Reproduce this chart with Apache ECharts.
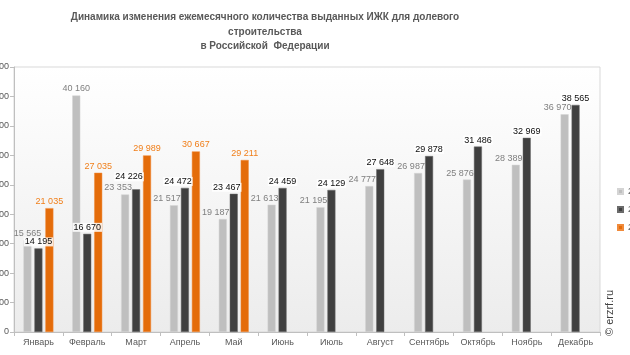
<!DOCTYPE html>
<html><head><meta charset="utf-8">
<script src="https://cdn.jsdelivr.net/npm/echarts@6/dist/echarts.min.js"></script>
<style>html,body{margin:0;padding:0;background:#fff}#c{width:630px;height:355px}</style>
</head><body><div id="c"></div>
<script>
const titleText = 'Динамика изменения ежемесячного количества выданных ИЖК для долевого\nстроительства\nв Российской  Федерации';
const months = ['Январь','Февраль','Март','Апрель','Май','Июнь','Июль','Август','Сентябрь','Октябрь','Ноябрь','Декабрь'];
const seriesNames = ['2021','2022','2023'];
const valuesA = [15565,40160,23353,21517,19187,21613,21195,24777,26987,25876,28389,36970];
const valuesB = [14195,16670,24226,24472,23467,24459,24129,27648,29878,31486,32969,38565];
const valuesC = [21035,27035,29989,30667,29211,null,null,null,null,null,null,null];
const yMin = 0, yMax = 45000, yStep = 5000;

// label nudges (style, not data)
const shiftA = [[0,0],[0,0],[-7,0],[-7,0],[-7,0],[-7,0],[-7,0],[-7,0],[-7,0],[-7,0],[-7,0],[-7,0]];
const shiftB = [[0,0],[0,0],[-7,-6],[-7,0],[-7,0],[0,0],[0,0],[0,0],[0,0],[0,0],[0,0],[0,0]];

function fmt(v){ return String(v).replace(/\B(?=(\d{3})+(?!\d))/g,' '); }
function items(vals, shift){
  return vals.map((v,i)=> v==null ? null : ({value:v, label:{offset: shift ? shift[i] : [0,0]}}));
}
const chart = echarts.init(document.getElementById('c'), null, {renderer:'canvas'});
const font = 'Liberation Sans, Arial, sans-serif';
chart.setOption({
  animation:false,
  textStyle:{fontFamily:font},
  title:{text:titleText, left:260, textAlign:'center', top:5, textStyle:{fontSize:10, fontWeight:'bold', color:'#595959', lineHeight:14.5, fontFamily:font}},
  legend:{orient:'vertical', left:617, top:187, padding:0, itemWidth:5, itemHeight:5, itemGap:9, icon:'rect',
    textStyle:{fontSize:9,color:'#595959'}, formatter:n=>n, data:seriesNames},
  grid:{left:14, right:30, top:67, bottom:23, show:true, borderColor:'#d9d9d9', borderWidth:1,
    outerBoundsMode:'none', containLabel:false,
    backgroundColor:{type:'linear',x:0,y:0,x2:0,y2:1,colorStops:[{offset:0,color:'#ffffff'},{offset:1,color:'#ececec'}]}},
  xAxis:{type:'category', data:months, axisLine:{lineStyle:{color:'#bfbfbf'}},
    axisTick:{show:true, alignWithLabel:false, length:4, lineStyle:{color:'#bfbfbf'}},
    axisLabel:{fontSize:9, color:'#595959', margin:6, interval:0}},
  yAxis:{type:'value', min:yMin, max:yMax, interval:yStep, splitLine:{show:false},
    axisLine:{show:true, lineStyle:{color:'#bfbfbf'}}, axisTick:{show:true,length:4,lineStyle:{color:'#bfbfbf'}},
    axisLabel:{fontSize:9, color:'#595959', margin:5, formatter:v=>fmt(v)}},
  series:[
    {name:seriesNames[0], type:'bar', data:items(valuesA, shiftA), barWidth:8, barGap:'37%',
     itemStyle:{color:'#bfbfbf', borderColor:'#d4d4d4', borderWidth:0.5},
     label:{show:true, position:'top', distance:2, fontSize:9, color:'#7f7f7f', formatter:p=>fmt(p.value)}},
    {name:seriesNames[1], type:'bar', data:items(valuesB, shiftB), barWidth:8, barGap:'37%',
     itemStyle:{color:'#404040', borderColor:'#6a6a6a', borderWidth:0.5},
     label:{show:true, position:'top', distance:2, fontSize:9, color:'#0d0d0d',
       backgroundColor:'rgba(255,255,255,0.85)', padding:[0,1], formatter:p=>fmt(p.value)}},
    {name:seriesNames[2], type:'bar', data:items(valuesC, null), barWidth:8, barGap:'37%',
     itemStyle:{color:'#e46c0a', borderColor:'#f08a3a', borderWidth:0.5},
     label:{show:true, position:'top', distance:2, fontSize:9, color:'#f07f1a', formatter:p=>fmt(p.value)}}
  ],
  color:['#bfbfbf','#404040','#e46c0a'],
  graphic:[{type:'text', x:615, y:336, rotation:Math.PI/2,
    style:{text:'© erzrf.ru', fontSize:11, fill:'#404040', fontFamily:font, textVerticalAlign:'bottom'}}]
});
</script></body></html>
